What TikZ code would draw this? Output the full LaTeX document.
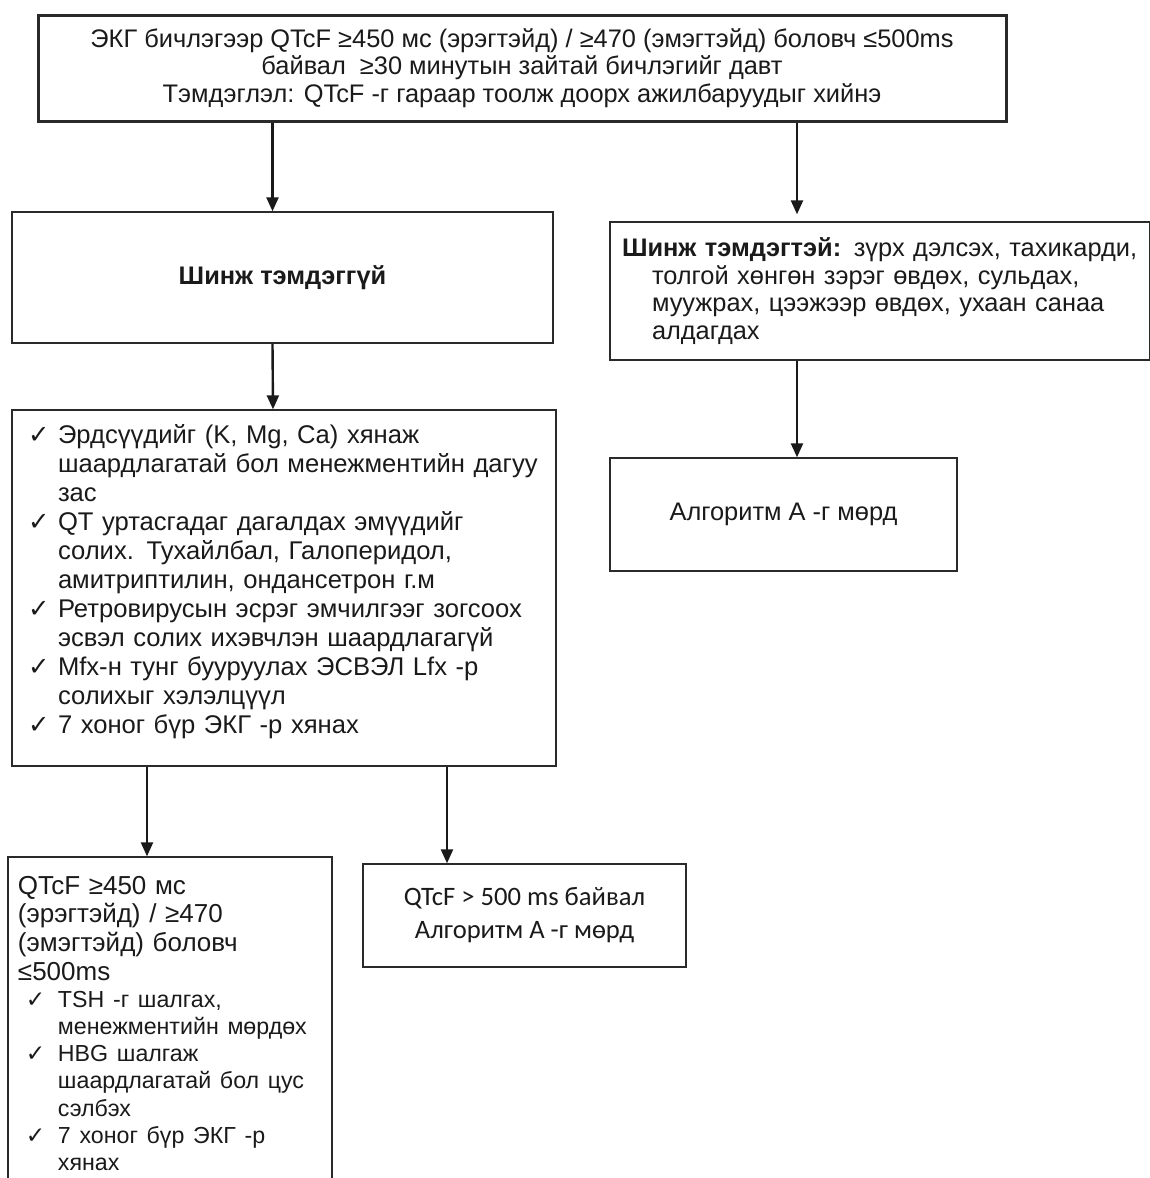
\documentclass[tikz,border=0pt]{standalone}
\usepackage{fontspec}
\setmainfont{Liberation Sans}
\newfontfamily\symfont{DejaVu Sans}
\newfontfamily\calfont{Carlito}
\usetikzlibrary{arrows.meta}
\definecolor{boxline}{HTML}{2A2A2A}
\definecolor{ink}{HTML}{1A1A1A}
% one ticked item, lines after the first hang under the text
\newcommand{\chkitem}[2][15pt]{{\def\\{\hfil\break}\hangindent=#1\hangafter=1\noindent
  \makebox[#1][l]{\symfont ✓}#2\par}}

\begin{document}
\begin{tikzpicture}[x=0.5pt,y=-0.5pt,
    every node/.style={draw=boxline,line width=0.7pt,text=ink,font=\fontsize{12.7}{13.8}\selectfont},
    arr/.style={-{Triangle[length=7pt,width=6pt]},line width=1.2pt,ink}]
      \useasboundingbox (0,0) rectangle (1150,1178);
      \draw
        (522,68) node[line width=1.5pt,minimum width=484pt,minimum height=53pt,align=center] (top)
          {ЭКГ бичлэгээр QTcF ≥450 мс (эрэгтэйд) / ≥470 (эмэгтэйд) боловч ≤500ms\\
           байвал\ \ ≥30 минутын зайтай бичлэгийг давт\\
           Тэмдэглэл: QTcF -г гараар тоолж доорх ажилбаруудыг хийнэ}
        (282.5,277.5) node[minimum width=270.5pt,minimum height=65.5pt] (none)
          {\bfseries Шинж тэмдэггүй}
        (880,291) node[minimum width=270pt,minimum height=69pt,text width=258pt,inner xsep=6pt,align=left] (sympt)
          {{\def\\{\hfil\break}\hangindent=15pt\hangafter=1\noindent
           \mbox{\textbf{Шинж тэмдэгтэй:} зүрх дэлсэх, тахикарди,}\\
           толгой хөнгөн зэрэг өвдөх, сульдах,\\
           муужрах, цээжээр өвдөх, ухаан санаа\\
           алдагдах\par}}
        (783.5,514.5) node[minimum width=173.5pt,minimum height=56.5pt] (algA)
          {Алгоритм А -г мөрд}
        (284,588) node[minimum width=272pt,minimum height=178pt,text width=256pt,inner xsep=8pt,align=left,
                       font=\fontsize{12.8}{14.5}\selectfont] (list)
          {\chkitem{Эрдсүүдийг (K, Mg, Ca) хянаж\\ шаардлагатай бол менежментийн дагуу\\ зас}
           \chkitem{QT уртасгадаг дагалдах эмүүдийг\\ солих. Тухайлбал, Галоперидол,\\ амитриптилин, ондансетрон г.м}
           \chkitem{Ретровирусын эсрэг эмчилгээг зогсоох\\ эсвэл солих ихэвчлэн шаардлагагүй}
           \chkitem{Mfx-н тунг бууруулах ЭСВЭЛ Lfx -р\\ солихыг хэлэлцүүл}
           \chkitem{7 хоног бүр ЭКГ -р хянах}
           \vspace*{6pt}}
        (170,1023.5) node[minimum width=162pt,minimum height=166.5pt,text width=152pt,inner xsep=5pt,align=left,
                          font=\fontsize{13}{14.3}\selectfont] (low)
          {QTcF ≥450 мс\\ (эрэгтэйд) / ≥470\\ (эмэгтэйд) боловч\\ ≤500ms\par
           {\fontsize{11.6}{13.6}\selectfont
           \leftskip=4pt
           \chkitem[16pt]{TSH -г шалгах,\\ менежментийн мөрдөх}
           \chkitem[16pt]{HBG шалгаж\\ шаардлагатай бол цус\\ сэлбэх}
           \chkitem[16pt]{7 хоног бүр ЭКГ -р\\ хянах}}}
        (524.5,915.5) node[minimum width=161.5pt,minimum height=51.5pt,align=center,
                           font=\calfont\fontsize{13.3}{16.5}\selectfont] (high)
          {QTcF > 500 ms байвал\\ Алгоритм А -г мөрд};
      \draw[arr] ([xshift=-5pt]none.north |- top.south) -- ([xshift=-5pt]none.north);
      \draw[arr,shorten >=3.5pt] ([xshift=-41.5pt]sympt.north |- top.south) -- ([xshift=-41.5pt]sympt.north);
      \draw[arr] ([xshift=-5pt]none.south) -- ([xshift=-5.5pt]list.north);
      \draw[arr] ([xshift=6.75pt]algA.north |- sympt.south) -- ([xshift=6.75pt]algA.north);
      \draw[arr] ([xshift=-11.5pt]low.north |- list.south) -- ([xshift=-11.5pt]low.north);
      \draw[arr] ([xshift=-38.75pt]high.north |- list.south) -- ([xshift=-38.75pt]high.north);
    \end{tikzpicture}
\end{document}
